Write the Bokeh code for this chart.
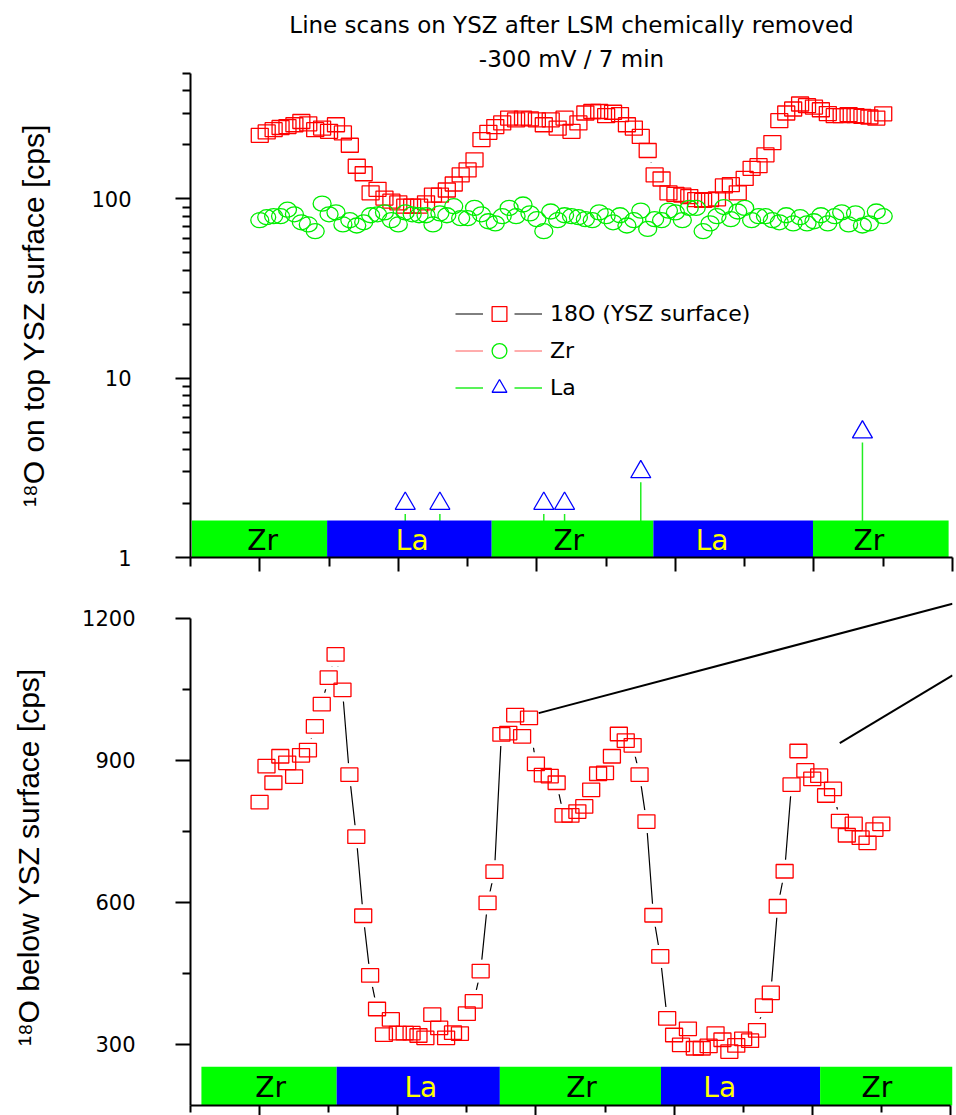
import numpy as np
from bokeh.plotting import figure
from bokeh.models import (Range1d, FixedTicker, Title, Legend, LegendItem,
                          ColumnDataSource, PrintfTickFormatter, CustomJSTickFormatter)
from bokeh.layouts import column
from bokeh.embed import file_html
from bokeh.resources import INLINE
from bokeh.core.properties import value

# ---------------- data ----------------
scan_x = np.arange(0, 45.5, 0.5)          # scan position, 91 points

top_o18 = [226, 236, 243, 250, 253, 259, 270, 262, 243, 248,
           238, 259, 233, 199, 152, 138, 108, 113, 101, 97,
           95, 91, 91, 91, 95, 105, 105, 112, 121, 136,
           145, 165, 214, 235, 253, 265, 282, 276, 282, 279,
           276, 259, 276, 248, 282, 238, 265, 301, 307, 307,
           291, 304, 295, 259, 248, 223, 186, 136, 129, 108,
           106, 105, 103, 99, 98, 99, 100, 118, 120, 108,
           130, 148, 153, 176, 206, 273, 301, 317, 338, 331,
           325, 314, 299, 291, 291, 295, 291, 288, 286, 282, 298]

top_zr = [76, 79, 80, 80, 87, 82, 74, 72, 66, 94,
          82, 84, 72, 76, 71, 74, 81, 82, 84, 76,
          72, 84, 82, 81, 81, 72, 83, 81, 91, 78,
          78, 89, 82, 75, 73, 80, 89, 80, 93, 83,
          77, 66, 85, 76, 81, 80, 79, 77, 76, 84,
          80, 74, 81, 71, 76, 86, 68, 77, 76, 86,
          84, 76, 89, 89, 66, 73, 80, 90, 77, 85,
          89, 76, 80, 80, 76, 74, 81, 73, 79, 73,
          75, 81, 73, 80, 84, 72, 83, 71, 73, 85, 80]

la_x = [10.5, 13.0, 20.5, 22.0, 27.5, 43.5]
la_cps = [2, 2, 2, 2, 3, 5]

bottom_o18 = [812, 888, 853, 909, 895, 866, 911, 922, 972, 1019,
              1075, 1124, 1049, 870, 739, 572, 446, 375, 321, 353,
              324, 324, 324, 319, 314, 363, 335, 314, 325, 323,
              365, 391, 455, 599, 665, 955, 958, 996, 951, 990,
              893, 869, 867, 853, 784, 784, 792, 803, 838, 872,
              874, 909, 956, 942, 932, 870, 771, 573, 486, 355,
              320, 299, 333, 292, 292, 297, 323, 310, 285, 298,
              312, 308, 330, 382, 409, 592, 666, 849, 920, 879,
              861, 868, 826, 840, 772, 742, 766, 737, 726, 754, 766]

band_names = ["Zr", "La", "Zr", "La", "Zr"]
band_colors = ["#00ff00", "#0000ff", "#00ff00", "#0000ff", "#00ff00"]
band_text_colors = ["black", "#ffff00", "black", "#ffff00", "black"]
top_band_edges = [-4.9, 4.86, 16.74, 28.41, 39.93, 49.72]
top_band_cps = [1.0, 1.61]
top_label_x = [0.2, 11.0, 22.3, 32.65, 43.96]
top_label_cps = 1.25
bottom_band_edges = [-4.21, 5.58, 17.39, 29.05, 40.57, 50.15]
bottom_band_cps = [170, 253]
bottom_label_x = [0.8, 11.67, 23.3, 33.3, 44.68]
bottom_label_cps = 210

# zoom connector lines (annotation toward an inset outside the page)
conn_x0 = [20.2, 41.99]
conn_y0 = [1000, 936.5]
conn_x1 = [50.15, 50.15]
conn_y1 = [1231, 1079.6]

x_major = [0, 10, 20, 30, 40, 50]
x_minor = [-5, 5, 15, 25, 35, 45]
top_y_major = [1, 10, 100]
top_y_minor = [2, 3, 4, 5, 6, 7, 8, 9, 20, 30, 40, 50, 60, 70, 80, 90, 200, 300, 400, 500]
bot_y_major = [300, 600, 900, 1200]
bot_y_minor = [450, 750, 1050]

TITLE_FONT = "DejaVu Sans"
TICK_FONT = "DejaVu Sans"
AXLAB_FONT = "Liberation Sans"


def style_axes(p, xb=None, yb=None):
    for ax in (p.xaxis[0], p.yaxis[0]):
        ax.axis_line_width = 2
        ax.axis_line_color = "black"
        ax.major_tick_line_width = 2
        ax.minor_tick_line_width = 2
        ax.major_tick_line_color = "black"
        ax.minor_tick_line_color = "black"
        ax.major_tick_in = 0
        ax.minor_tick_in = 0
    xa = p.xaxis[0]
    xa.ticker = FixedTicker(ticks=x_major, minor_ticks=x_minor)
    xa.formatter = CustomJSTickFormatter(code="return ''")
    xa.major_label_text_font_size = "1px"
    xa.major_label_standoff = 0
    xa.major_tick_out = 14
    xa.minor_tick_out = 9
    if xb is not None:
        xa.bounds = xb
    ya = p.yaxis[0]
    ya.major_tick_out = 15
    ya.minor_tick_out = 8
    ya.major_label_text_font = TICK_FONT
    ya.major_label_text_font_size = "21px"
    ya.major_label_text_color = "black"
    ya.axis_label_text_font = AXLAB_FONT
    ya.axis_label_text_font_size = "30px"
    ya.axis_label_text_font_style = "normal"
    ya.axis_label_text_color = "black"
    if yb is not None:
        ya.bounds = yb
    p.grid.visible = False
    p.outline_line_color = None
    p.background_fill_color = "white"
    p.border_fill_color = "white"


# ---------------- top figure ----------------
p1 = figure(width=956, height=595, x_range=Range1d(-5, 50), y_range=Range1d(1, 500),
            y_axis_type="log", output_backend="svg", toolbar_location=None,
            min_border_left=188, min_border_right=4, min_border_top=73, min_border_bottom=38)
p1.title.text = ""
style_axes(p1)
p1.yaxis[0].ticker = FixedTicker(ticks=top_y_major, minor_ticks=top_y_minor)
p1.yaxis[0].formatter = PrintfTickFormatter(format="%d")
p1.yaxis[0].major_label_standoff = 44
p1.yaxis[0].axis_label = "\u00b9\u2078O on top YSZ surface [cps]"
p1.yaxis[0].axis_label_standoff = 38

p1.add_layout(Title(text="-300 mV / 7 min", align="center", text_font=TITLE_FONT,
                    text_font_size="23px", text_font_style="normal", text_color="black",
                    standoff=3), "above")
p1.add_layout(Title(text="Line scans on YSZ after LSM chemically removed", align="center",
                    text_font=TITLE_FONT, text_font_size="23px", text_font_style="normal",
                    text_color="black", standoff=9), "above")

src_top = ColumnDataSource(dict(x=scan_x, o18=top_o18, zr=top_zr))
src_la = ColumnDataSource(dict(x=la_x, y=la_cps, base=[top_band_cps[0]] * len(la_x)))

l_o18 = p1.line("x", "o18", source=src_top, line_color="black", line_width=1)
l_zr = p1.line("x", "zr", source=src_top, line_color="#ff5a5a", line_width=1)
l_la = p1.segment(x0="x", y0="base", x1="x", y1="y", source=src_la,
                  line_color="#22ee22", line_width=1.5)

# white gaps around symbols
p1.rect("x", "o18", source=src_top, width=27, height=24, width_units="screen",
        height_units="screen", fill_color="white", line_color=None)
p1.ellipse("x", "zr", source=src_top, width=28, height=25, width_units="screen",
           height_units="screen", fill_color="white", line_color=None)
p1.scatter("x", "y", source=src_la, marker="triangle", size=36, fill_color="white",
           line_color=None)

band_top = ColumnDataSource(dict(left=top_band_edges[:-1], right=top_band_edges[1:],
                                 color=band_colors))
p1.quad(left="left", right="right", bottom=top_band_cps[0], top=top_band_cps[1],
        source=band_top, fill_color="color", line_color=None)
lab_top = ColumnDataSource(dict(x=top_label_x, y=[top_label_cps] * 5, t=band_names,
                                c=band_text_colors))
p1.text("x", "y", text="t", source=lab_top, text_color="c", text_align="center",
        text_baseline="middle", text_font=value("DejaVu Sans"), text_font_size="28px")

p1.rect("x", "o18", source=src_top, width=17, height=14, width_units="screen",
        height_units="screen", fill_color=None, line_color="#ff0000", line_width=1.3)
p1.ellipse("x", "zr", source=src_top, width=18, height=15, width_units="screen",
           height_units="screen", fill_color=None, line_color="#00ee00", line_width=1.3)
p1.scatter("x", "y", source=src_la, marker="triangle", size=20, fill_color=None,
           line_color="#0000ff", line_width=1.3)

# zero-size scatter renderers, used only for the legend symbols
m_sq = p1.scatter("x", "o18", source=src_top, marker="square", size=0, fill_color=None,
                  line_color="#ff0000", line_width=1.3)
m_ci = p1.scatter("x", "zr", source=src_top, marker="circle", size=0, fill_color=None,
                  line_color="#00ee00", line_width=1.3)
m_tr = p1.scatter("x", "y", source=src_la, marker="triangle", size=0, fill_color=None,
                  line_color="#0000ff", line_width=1.3)

leg_common = dict(padding=0, margin=0, border_line_color=None, background_fill_alpha=0,
                  label_text_font=TITLE_FONT, label_text_font_size="22px",
                  label_text_color="black", glyph_height=37, spacing=0)
legA = Legend(items=[LegendItem(label="", renderers=[l_o18]),
                     LegendItem(label="", renderers=[l_zr]),
                     LegendItem(label="", renderers=[l_la])],
              location=(265, 151), glyph_width=28,
              label_width=0, label_standoff=0, **leg_common)
legB = Legend(items=[LegendItem(label="", renderers=[m_sq]),
                     LegendItem(label="", renderers=[m_ci]),
                     LegendItem(label="", renderers=[m_tr])],
              location=(290, 151), glyph_width=38,
              label_width=0, label_standoff=0, **leg_common)
legC = Legend(items=[LegendItem(label="18O (YSZ surface)", renderers=[l_o18]),
                     LegendItem(label="Zr", renderers=[l_zr]),
                     LegendItem(label="La", renderers=[l_la])],
              location=(324, 151), glyph_width=28, label_standoff=8, **leg_common)
for lg in (legA, legB, legC):
    p1.add_layout(lg)

# ---------------- bottom figure ----------------
p2 = figure(width=956, height=520, x_range=Range1d(-5, 50.15), y_range=Range1d(171.1, 1238),
            output_backend="svg", toolbar_location=None,
            min_border_left=190, min_border_right=0, min_border_top=5, min_border_bottom=10)
p2.title.text = ""
style_axes(p2, xb=(-5, 50), yb=(171.1, 1200))
p2.xaxis[0].major_tick_out = 10
p2.xaxis[0].minor_tick_out = 7
p2.yaxis[0].ticker = FixedTicker(ticks=bot_y_major, minor_ticks=bot_y_minor)
p2.yaxis[0].major_label_standoff = 40
p2.yaxis[0].axis_label = "\u00b9\u2078O below  YSZ surface [cps]"
p2.yaxis[0].axis_label_standoff = 34

src_bot = ColumnDataSource(dict(x=scan_x, o18=bottom_o18))
p2.line("x", "o18", source=src_bot, line_color="black", line_width=1.2)
p2.rect("x", "o18", source=src_bot, width=27, height=23, width_units="screen",
        height_units="screen", fill_color="white", line_color=None)
band_bot = ColumnDataSource(dict(left=bottom_band_edges[:-1], right=bottom_band_edges[1:],
                                 color=band_colors))
p2.quad(left="left", right="right", bottom=bottom_band_cps[0], top=bottom_band_cps[1],
        source=band_bot, fill_color="color", line_color=None)
lab_bot = ColumnDataSource(dict(x=bottom_label_x, y=[bottom_label_cps] * 5, t=band_names,
                                c=band_text_colors))
p2.text("x", "y", text="t", source=lab_bot, text_color="c", text_align="center",
        text_baseline="middle", text_font=value("DejaVu Sans"), text_font_size="28px")
p2.rect("x", "o18", source=src_bot, width=17, height=13.5, width_units="screen",
        height_units="screen", fill_color=None, line_color="#ff0000", line_width=1.3)
p2.segment(x0=conn_x0, y0=conn_y0, x1=conn_x1, y1=conn_y1, line_color="black",
           line_width=2)

layout = column(p1, p2)
open("out.html", "w").write(file_html(layout, INLINE))
